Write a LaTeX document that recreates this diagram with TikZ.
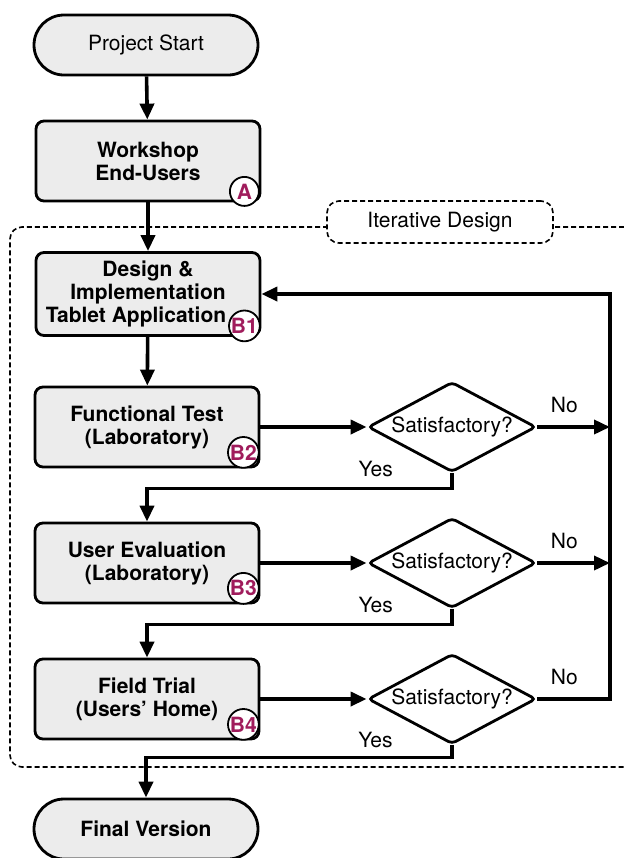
\documentclass[tikz,border=0pt]{standalone}
\usepackage{fontspec}
\setmainfont{TeX Gyre Heros}
\usetikzlibrary{shapes.geometric,arrows.meta}
\definecolor{kennfarbe}{RGB}{160,28,92}

\begin{document}
\begin{tikzpicture}[%show background rectangle,
        x=0.5pt, y=-0.5pt,
        font=\fontsize{10.5}{11.5}\selectfont,
        >={Triangle[length=8pt,width=7pt]}, % Voreinstellung fuer Pfeilspitzen
        block/.style={draw, line width=1.4pt, rounded corners=4pt, fill=gray!15,
            minimum width=112pt, minimum height=40pt, align=center,
            font=\fontsize{10.5}{11.5}\selectfont\bfseries},
        terminal/.style={block, rounded corners=15pt, minimum height=30pt},
        entscheidung/.style={diamond, aspect=1.87, draw, line width=1.4pt,
            rounded corners=2pt, fill=white, minimum width=84pt,
            minimum height=45pt, inner sep=0pt},
        kennung/.style={circle, draw, line width=0.9pt, fill=white, inner sep=0pt,
            minimum size=14.5pt, text=kennfarbe,
            font=\fontsize{10.5}{11.5}\selectfont\bfseries},
        rahmen/.style={draw, line width=0.8pt, dash pattern=on 2.5pt off 1.5pt,
            rounded corners=6pt},
        fluss/.style={->, line width=1.8pt}
        ]
            \useasboundingbox (0,0) rectangle (624,858);

            % Rahmen
            \draw [rahmen] (640,227) -- (10,227) -- (10,767) -- (640,767);
            \node [rahmen, fill=white, minimum width=113pt, minimum height=21pt]
                (iter) at (440,222) {Iterative Design};

            % Bloecke
            \node [terminal, font=\fontsize{10.5}{11.5}\selectfont] (start) at (146,45) {Project Start};
            \node [block] (workshop) at (148,161) {Workshop\\End-Users};
            \node [block, minimum height=41.5pt] (design) at (148,294)
                {Design \&\\Implementation\\Tablet Application\hspace*{12pt}};
            \node [block] (funktest) at (147,427) {Functional Test\\(Laboratory)};
            \node [block] (nutzer)   at (147,563) {User Evaluation\\(Laboratory)};
            \node [block] (feld)     at (147,699) {Field Trial\\(Users’ Home)};
            \node [terminal] (final) at (146,829) {Final Version};

            % Entscheidungen
            \node [entscheidung] (e1) at (452,427) {Satisfactory?};
            \node [entscheidung] (e2) at (452,563) {Satisfactory?};
            \node [entscheidung] (e3) at (452,699) {Satisfactory?};

            % Kennungen
            \node [kennung] (kA)  at ([xshift=-8.5pt,yshift=5.5pt]workshop.south east) {A};
            \node [kennung] (kB1) at ([xshift=-8.5pt,yshift=5.5pt]design.south east) {B1};
            \node [kennung] (kB2) at ([xshift=-8.5pt,yshift=8pt]funktest.south east) {B2};
            \node [kennung] (kB3) at ([xshift=-8.5pt,yshift=8pt]nutzer.south east) {B3};
            \node [kennung] (kB4) at ([xshift=-8.5pt,yshift=8pt]feld.south east) {B4};

            % Verbindungen
            \coordinate (rechts) at (610,0);
            \draw [fluss] (start) -- (workshop);
            \draw [fluss] (workshop) -- (design);
            \draw [fluss] (design) -- (funktest);
            \draw [fluss] (funktest) -- (e1);
            \draw [fluss] (nutzer) -- (e2);
            \draw [fluss] (feld) -- (e3);

            \draw [fluss] (e1.south) -- ++(0,-7.5pt)
                -| node [pos=0.125, above=1.5pt] (ja1) {Yes} (nutzer.north);
            \draw [fluss] (e2.south) -- ++(0,-7.5pt)
                -| node [pos=0.125, above=1.5pt] (ja2) {Yes} (feld.north);
            \draw [fluss] (e3.south) -- ++(0,-6pt)
                -| node [pos=0.125, above=0.5pt] (ja3) {Yes} (final.north);

            \draw [fluss] (e1.east) -- node [pos=0.37, above=3pt] (nein1) {No} (e1.east -| rechts);
            \draw [fluss] (e2.east) -- node [pos=0.37, above=3pt] (nein2) {No} (e2.east -| rechts);
            \draw [fluss] (e3.east) -- node [pos=0.37, above=3pt] (nein3) {No} (e3.east -| rechts)
                |- (design.east);
        \end{tikzpicture}
\end{document}
